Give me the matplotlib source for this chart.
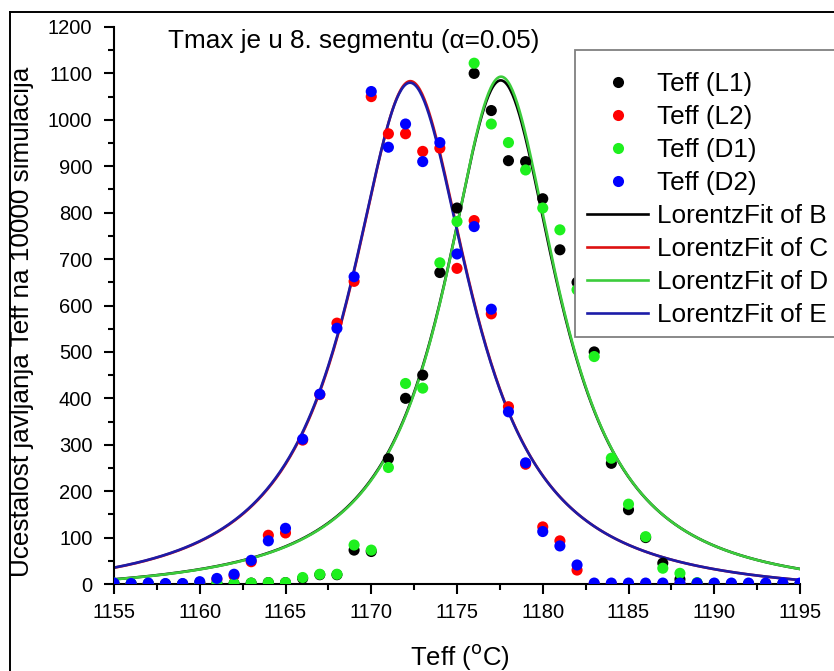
import numpy as np
import matplotlib
matplotlib.use("Agg")
import matplotlib.pyplot as plt
from matplotlib.lines import Line2D
from matplotlib.patches import Rectangle
from matplotlib.ticker import MultipleLocator

plt.rcParams['font.family'] = ['Liberation Sans', 'DejaVu Sans']

# Effective temperature bins (°C)
temps = [1155, 1156, 1157, 1158, 1159, 1160, 1161, 1162, 1163, 1164,
         1165, 1166, 1167, 1168, 1169, 1170, 1171, 1172, 1173, 1174,
         1175, 1176, 1177, 1178, 1179, 1180, 1181, 1182, 1183, 1184,
         1185, 1186, 1187, 1188, 1189, 1190, 1191, 1192, 1193, 1194, 1195]

# Frequency of occurrence in 10000 simulations
teff_l1 = [0, 0, 0, 0, 0, 0, 1, 1, 2, 3,
           3, 12, 20, 20, 73, 70, 270, 400, 450, 671,
           810, 1100, 1020, 912, 910, 830, 720, 650, 500, 260,
           160, 100, 45, 10, 1, 0, 0, 0, 0, 0, 0]
teff_l2 = [0, 0, 0, 0, 0, 3, 10, 18, 48, 105,
           110, 310, 408, 562, 652, 1050, 970, 970, 932, 939,
           680, 783, 582, 382, 258, 123, 93, 30, 0, 0,
           0, 0, 0, 0, 0, 0, 0, 0, 0, 0, 0]
teff_d1 = [2, 1, 1, 0, 0, 1, 2, 1, 2, 3,
           3, 14, 21, 21, 84, 73, 251, 432, 422, 692,
           781, 1122, 991, 951, 892, 810, 763, 634, 490, 271,
           172, 102, 34, 23, 3, 1, 0, 0, 0, 0, 0]
teff_d2 = [2, 1, 2, 1, 1, 5, 12, 21, 51, 93,
           120, 312, 409, 551, 662, 1061, 941, 991, 910, 951,
           711, 770, 592, 371, 261, 113, 82, 41, 2, 2,
           2, 2, 2, 2, 2, 2, 2, 2, 2, 2, 2]

series_labels = ['Teff (L1)', 'Teff (L2)', 'Teff (D1)', 'Teff (D2)']
point_colors = ['#000000', '#ff0000', '#1ef01e', '#0000ff']

# Lorentz fit parameters: y = y0 + (2A/pi) * w / (4 (x - xc)^2 + w^2)
fit_labels = ['LorentzFit of B', 'LorentzFit of C', 'LorentzFit of D', 'LorentzFit of E']
fit_xc = [1177.55, 1172.28, 1177.57, 1172.26]
fit_w = [8.15, 8.60, 8.10, 8.63]
fit_y0 = [-25.0, -30.0, -25.0, -30.0]
fit_area = [14210.0, 15040.0, 14225.0, 15047.0]
fit_colors = ['#000000', '#dd1111', '#3ccc3c', '#1c1ca8']


def lorentz(x, y0, xc, w, area):
    return y0 + (2.0 * area / np.pi) * w / (4.0 * (x - xc) ** 2 + w ** 2)


W, H = 834, 671
fig = plt.figure(figsize=(W / 100, H / 100), dpi=100)
ax = fig.add_axes([114 / W, 1 - 584 / H, 686 / W, 557 / H])

xfine = np.linspace(temps[0], temps[-1], 600)
for y0, xc, w, a, c in zip(fit_y0, fit_xc, fit_w, fit_area, fit_colors):
    ax.plot(xfine, lorentz(xfine, y0, xc, w, a), color=c, lw=1.9, zorder=2)

for vals, c in zip([teff_l1, teff_l2, teff_d1, teff_d2], point_colors):
    ax.scatter(temps, vals, s=64, color=c, edgecolors='none', zorder=3)

ax.set_xlim(1155, 1195)
ax.set_ylim(0, 1200)
ax.xaxis.set_major_locator(MultipleLocator(5))
ax.xaxis.set_minor_locator(MultipleLocator(2.5))
ax.yaxis.set_major_locator(MultipleLocator(100))
ax.yaxis.set_minor_locator(MultipleLocator(50))

for side in ('top', 'right'):
    ax.spines[side].set_visible(False)
for side in ('left', 'bottom'):
    ax.spines[side].set_linewidth(1.5)

ax.tick_params(which='major', direction='out', length=7, width=1.5, labelsize=14.5)
ax.tick_params(which='minor', direction='out', length=4, width=1.5)
ax.tick_params(axis='x', which='major', pad=7)
ax.tick_params(axis='y', which='major', pad=8.5)

ax.set_xlabel('Teff ($^{\\rm o}$C)', fontsize=18.5)
ax.xaxis.set_label_coords(0.504, -0.105)
ax.set_ylabel('Ucestalost javljanja Teff na 10000 simulacija', fontsize=18.8)
ax.yaxis.set_label_coords(-0.117, 0.47)

ax.text(0.0787, 0.962, 'Tmax je u 8. segmentu (\u03b1=0.05)', transform=ax.transAxes,
        fontsize=18.8, ha='left', va='baseline')

# Legend box frame (runs past the right edge of the canvas)
fig.add_artist(Rectangle((575 / W, 1 - 337 / H), 300 / W, 287 / H,
                         transform=fig.transFigure, facecolor='white',
                         edgecolor='#808080', linewidth=1.3, zorder=4))

handles = [Line2D([], [], marker='o', linestyle='none', markersize=8,
                  markerfacecolor=c, markeredgecolor='none') for c in point_colors]
handles += [Line2D([], [], color=c, lw=1.9) for c in fit_colors]
leg = fig.legend(handles, series_labels + fit_labels, loc='upper left',
                 bbox_to_anchor=(587 / W, 1 - 72 / H), bbox_transform=fig.transFigure,
                 borderaxespad=0, fontsize=18.8, frameon=False,
                 handlelength=2.34, handletextpad=0.35, labelspacing=0.345,
                 borderpad=0)
leg.set_zorder(5)

# Outer frame lines (left and top)
fig.add_artist(Line2D([10 / W, 10 / W], [0, 1 - 12 / H], color='black', lw=1.4,
                      transform=fig.transFigure))
fig.add_artist(Line2D([10 / W, 1], [1 - 12 / H, 1 - 12 / H], color='black', lw=1.4,
                      transform=fig.transFigure))

fig.savefig('out.png', dpi=100)
